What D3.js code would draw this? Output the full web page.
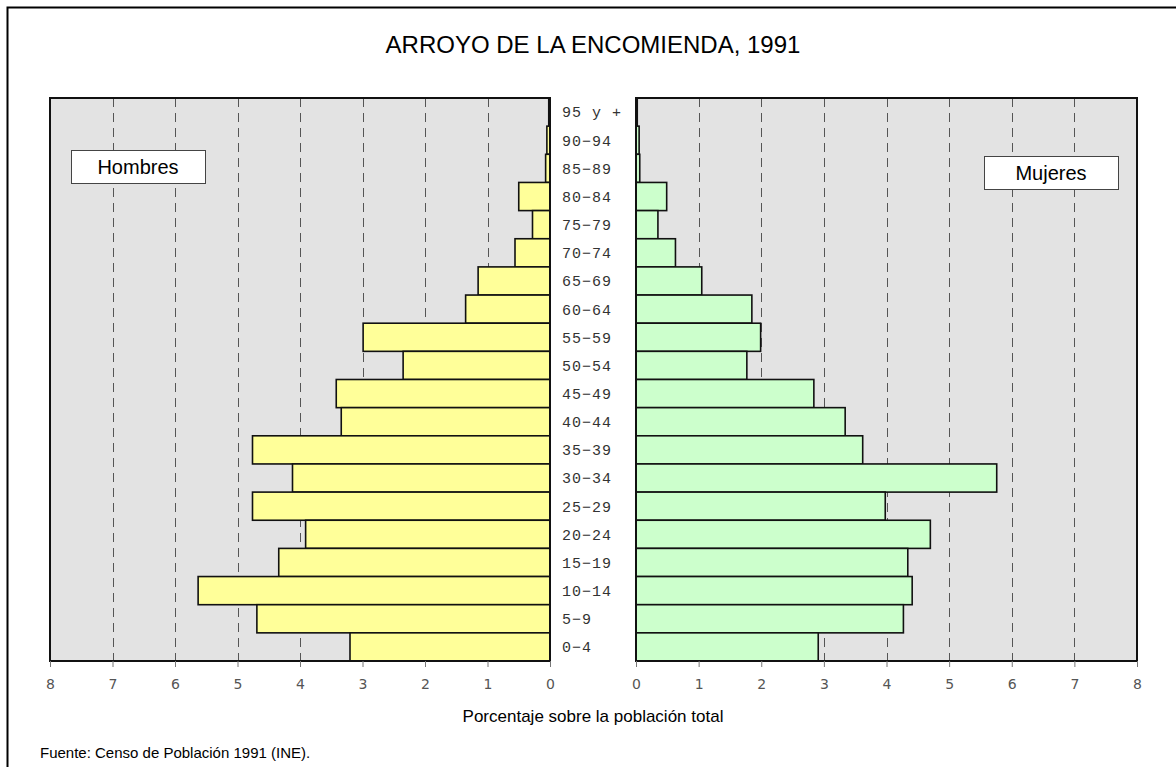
<!DOCTYPE html>
<html>
<head>
<meta charset="utf-8">
<script src="https://cdn.jsdelivr.net/npm/d3@7"></script>
<style>
  body { margin: 0; background: #fff; }
  svg { display: block; }
</style>
</head>
<body>
<div id="graphContainer"></div>
<script>
// age groups, top to bottom
var ages = ["95 y +", "90-94", "85-89", "80-84", "75-79", "70-74", "65-69", "60-64", "55-59", "50-54",
            "45-49", "40-44", "35-39", "30-34", "25-29", "20-24", "15-19", "10-14", "5-9", "0-4"];

// % of total population
var hombres = [0.02, 0.05, 0.07, 0.50, 0.28, 0.56, 1.15, 1.35, 2.99, 2.35,
               3.42, 3.34, 4.76, 4.12, 4.76, 3.91, 4.34, 5.63, 4.69, 3.20];
var mujeres = [0.02, 0.05, 0.06, 0.49, 0.35, 0.63, 1.05, 1.85, 1.99, 1.77,
               2.84, 3.34, 3.62, 5.76, 3.98, 4.70, 4.34, 4.41, 4.27, 2.91];

var tickValues = [0, 1, 2, 3, 4, 5, 6, 7, 8];
var gridValues = [1, 2, 3, 4, 5, 6, 7];

var width = 1176, height = 767;

var svg = d3.select("#graphContainer").append("svg")
    .attr("width", width)
    .attr("height", height);

var plotTop = 98, plotBottom = 661;

var xL = d3.scaleLinear().domain([0, 8]).range([550, 50]);
var xR = d3.scaleLinear().domain([0, 8]).range([636, 1137]);
var y = d3.scaleBand().domain(ages).range([plotTop, plotBottom]).padding(0);

// outer frame (only left and top visible in the picture)
svg.append("path")
    .attr("d", "M7.5," + height + "V7.5H" + width)
    .attr("fill", "none")
    .attr("stroke", "#000")
    .attr("stroke-width", 2);

// title
svg.append("text")
    .attr("x", 593)
    .attr("y", 53)
    .attr("text-anchor", "middle")
    .style("font-family", "Liberation Sans, Arial, sans-serif")
    .style("font-size", "24px")
    .text("ARROYO DE LA ENCOMIENDA, 1991");

function drawPanel(x, data, fill, side) {
    var g = svg.append("g").attr("class", "panel-" + side);
    var x0 = Math.min(x(0), x(8)), x1 = Math.max(x(0), x(8));

    g.append("rect")
        .attr("x", x0).attr("y", plotTop)
        .attr("width", x1 - x0).attr("height", plotBottom - plotTop)
        .attr("fill", "#e3e3e3");

    // dashed grid
    g.selectAll(".grid").data(gridValues).enter().append("line")
        .attr("class", "grid")
        .attr("x1", function (d) { return Math.round(x(d)) + 0.5; })
        .attr("x2", function (d) { return Math.round(x(d)) + 0.5; })
        .attr("y1", plotTop).attr("y2", plotBottom)
        .attr("stroke", "#555")
        .attr("stroke-width", 1)
        .attr("stroke-dasharray", "9,6");

    // bars
    g.selectAll(".bar").data(data).enter().append("rect")
        .attr("class", "bar")
        .attr("x", function (d) { return Math.min(x(0), x(d)); })
        .attr("y", function (d, i) { return y(ages[i]); })
        .attr("width", function (d) { return Math.abs(x(d) - x(0)); })
        .attr("height", y.bandwidth())
        .attr("fill", fill)
        .attr("stroke", "#111")
        .attr("stroke-width", 1.6);

    // panel frame
    g.append("rect")
        .attr("x", x0).attr("y", plotTop)
        .attr("width", x1 - x0).attr("height", plotBottom - plotTop)
        .attr("fill", "none")
        .attr("stroke", "#111")
        .attr("stroke-width", 2);

    // axis
    var axis = g.append("g")
        .attr("transform", "translate(0," + plotBottom + ")")
        .call(d3.axisBottom(x).tickValues(tickValues).tickSize(6).tickPadding(12).tickFormat(d3.format("d")));
    axis.select(".domain").remove();
    axis.selectAll(".tick line").attr("stroke", "#777");
    axis.selectAll(".tick text")
        .attr("fill", "#555")
        .style("font-family", "DejaVu Sans, sans-serif")
        .style("font-size", "14px");
}

drawPanel(xL, hombres, "#ffff99", "left");
drawPanel(xR, mujeres, "#ccffcc", "right");

// age labels in the gap
svg.selectAll(".age").data(ages).enter().append("text")
    .attr("class", "age")
    .attr("x", 562)
    .attr("y", function (d) { return y(d) + y.bandwidth() / 2; })
    .attr("dy", "0.36em")
    .attr("fill", "#333")
    .style("font-family", "Liberation Mono, Courier New, monospace")
    .style("font-size", "15px")
    .style("letter-spacing", "1px")
    .text(function (d) { return d.replace(/-/g, "\u2212"); });

// legend boxes
function legendBox(x0, y0, label) {
    svg.append("rect")
        .attr("x", x0 + 0.5).attr("y", y0 + 0.5)
        .attr("width", 134).attr("height", 33)
        .attr("fill", "#fff")
        .attr("stroke", "#444")
        .attr("stroke-width", 1);
    svg.append("text")
        .attr("x", x0 + 67).attr("y", y0 + 17)
        .attr("dy", "0.35em")
        .attr("text-anchor", "middle")
        .style("font-family", "Liberation Sans, Arial, sans-serif")
        .style("font-size", "20px")
        .text(label);
}
legendBox(71, 150, "Hombres");
legendBox(984, 156, "Mujeres");

// x axis title
svg.append("text")
    .attr("x", 593)
    .attr("y", 722)
    .attr("text-anchor", "middle")
    .style("font-family", "Liberation Sans, Arial, sans-serif")
    .style("font-size", "17px")
    .text("Porcentaje sobre la población total");

// source
svg.append("text")
    .attr("x", 40)
    .attr("y", 758)
    .style("font-family", "Liberation Sans, Arial, sans-serif")
    .style("font-size", "15px")
    .text("Fuente: Censo de Población 1991 (INE).");
</script>
</body>
</html>
